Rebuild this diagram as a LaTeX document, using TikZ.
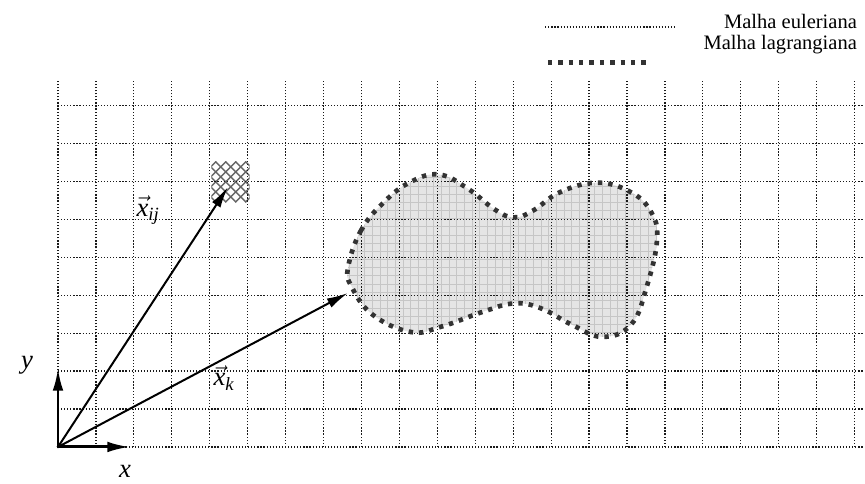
\documentclass[tikz,border=0pt]{standalone}
\usepackage{amsmath}
\usepackage{fontspec}
\setmainfont{Liberation Serif}
\usepackage{tikz}
\usetikzlibrary{arrows.meta}
\usepackage{tkz-euclide}

\begin{document}
\begin{tikzpicture}[x=28.75pt, y=30.585pt,
    eulergrid/.style={black!90, line width=0.9pt, line cap=butt, dash pattern=on 0.9pt off 1.4pt},
    finegrid/.style={gray!45, line width=0.5pt, step=0.2},
    lagrborder/.style={black!80, line width=3.5pt, line cap=butt, dash pattern=on 3.3pt off 4.5pt},
    hatchline/.style={black!60, line width=1.1pt},
    vecarrow/.style={line width=1.5pt, -{Latex[length=16pt,width=7.5pt]}},
    axisarrow/.style={line width=2.2pt, -{Latex[length=17pt,width=8pt]}},
    legendtext/.style={font=\fontsize{15.4}{18}\selectfont, anchor=base east, inner sep=0pt},
    axislabel/.style={font=\fontsize{20}{24}\selectfont\itshape, inner sep=0pt},
    veclabel/.style={font=\fontsize{20}{24}\selectfont, inner sep=0pt}]
      \useasboundingbox (-1.513,-0.907) rectangle (21.054,10.961);

      % 1. origem, eixos e extremidades dos vetores
      \tkzDefPoint(0,0){O}
      \tkzDefPoint(1.878,0){Ex}
      \tkzDefPoint(0,1.937){Ey}
      \tkzDefPoint(4.435,6.376){Xij}
      \tkzDefPoint(7.566,3.776){Xk}

      % 2. corpo imerso: preenchimento e malha fina
      \fill[gray!20, save path=\corpo] plot[smooth cycle, tension=0.7] coordinates {
        (7.57,4.41) (7.9,5.3) (8.5,6.0) (9.2,6.5) (9.95,6.68) (10.7,6.33)
        (11.4,5.82) (11.9,5.63) (12.4,5.8) (13.1,6.25) (14.05,6.48) (14.9,6.27)
        (15.45,5.8) (15.63,5.1) (15.35,3.9) (14.95,3.0) (14.2,2.7) (13.4,3.0)
        (12.6,3.4) (11.9,3.52) (11.1,3.32) (10.0,2.95) (9.2,2.82) (8.2,3.25)
        (7.65,3.95)};
      \begin{scope}
        \clip[use path=\corpo];
        \draw[finegrid] (7,2) grid (16,7);
      \end{scope}

      % 3. celula marcada
      \begin{scope}
        \clip (4,6) rectangle (5,7);
        \foreach \a in {-1.2,-0.939,...,1.2} {
          \draw[hatchline] (4+\a,6) -- ++(1.064,1);
          \draw[hatchline] (4+\a,7) -- ++(1.064,-1);
        }
      \end{scope}

      % 4. malha euleriana
      \draw[eulergrid] (0,0) grid (21,9);

      % 5. malha lagrangiana (contorno)
      \draw[lagrborder, use path=\corpo];

      % 6. vetores e eixos
      \tkzDrawSegments[vecarrow](O,Xij O,Xk)
      \tkzDrawSegments[axisarrow](O,Ey O,Ex)

      % 7. rotulos
      \node[axislabel] (ly) at (-0.81,2.01) {y};
      \node[axislabel] (lx) at (1.75,-0.61) {x};
      \node[veclabel] (lxij) at (2.35,5.81) {$\vec{\text{\itshape x}}_{\text{\itshape ij}}$};
      \node[veclabel] (lxk) at (4.33,1.69) {$\vec{\text{\itshape x}}_{\text{\itshape k}}$};

      % 8. legenda
      \tkzDefPoint(12.71,10.30){Ea}
      \tkzDefPoint(16.1,10.30){Eb}
      \tkzDefPoint(12.78,9.43){La}
      \tkzDefPoint(15.37,9.43){Lb}
      \tkzDrawSegment[eulergrid](Ea,Eb)
      \tkzDrawSegment[lagrborder](La,Lb)
      \node[legendtext] (leul) at (20.85,10.25) {Malha euleriana};
      \node[legendtext] (llag) at (20.85,9.735) {Malha lagrangiana};
    \end{tikzpicture}
\end{document}
